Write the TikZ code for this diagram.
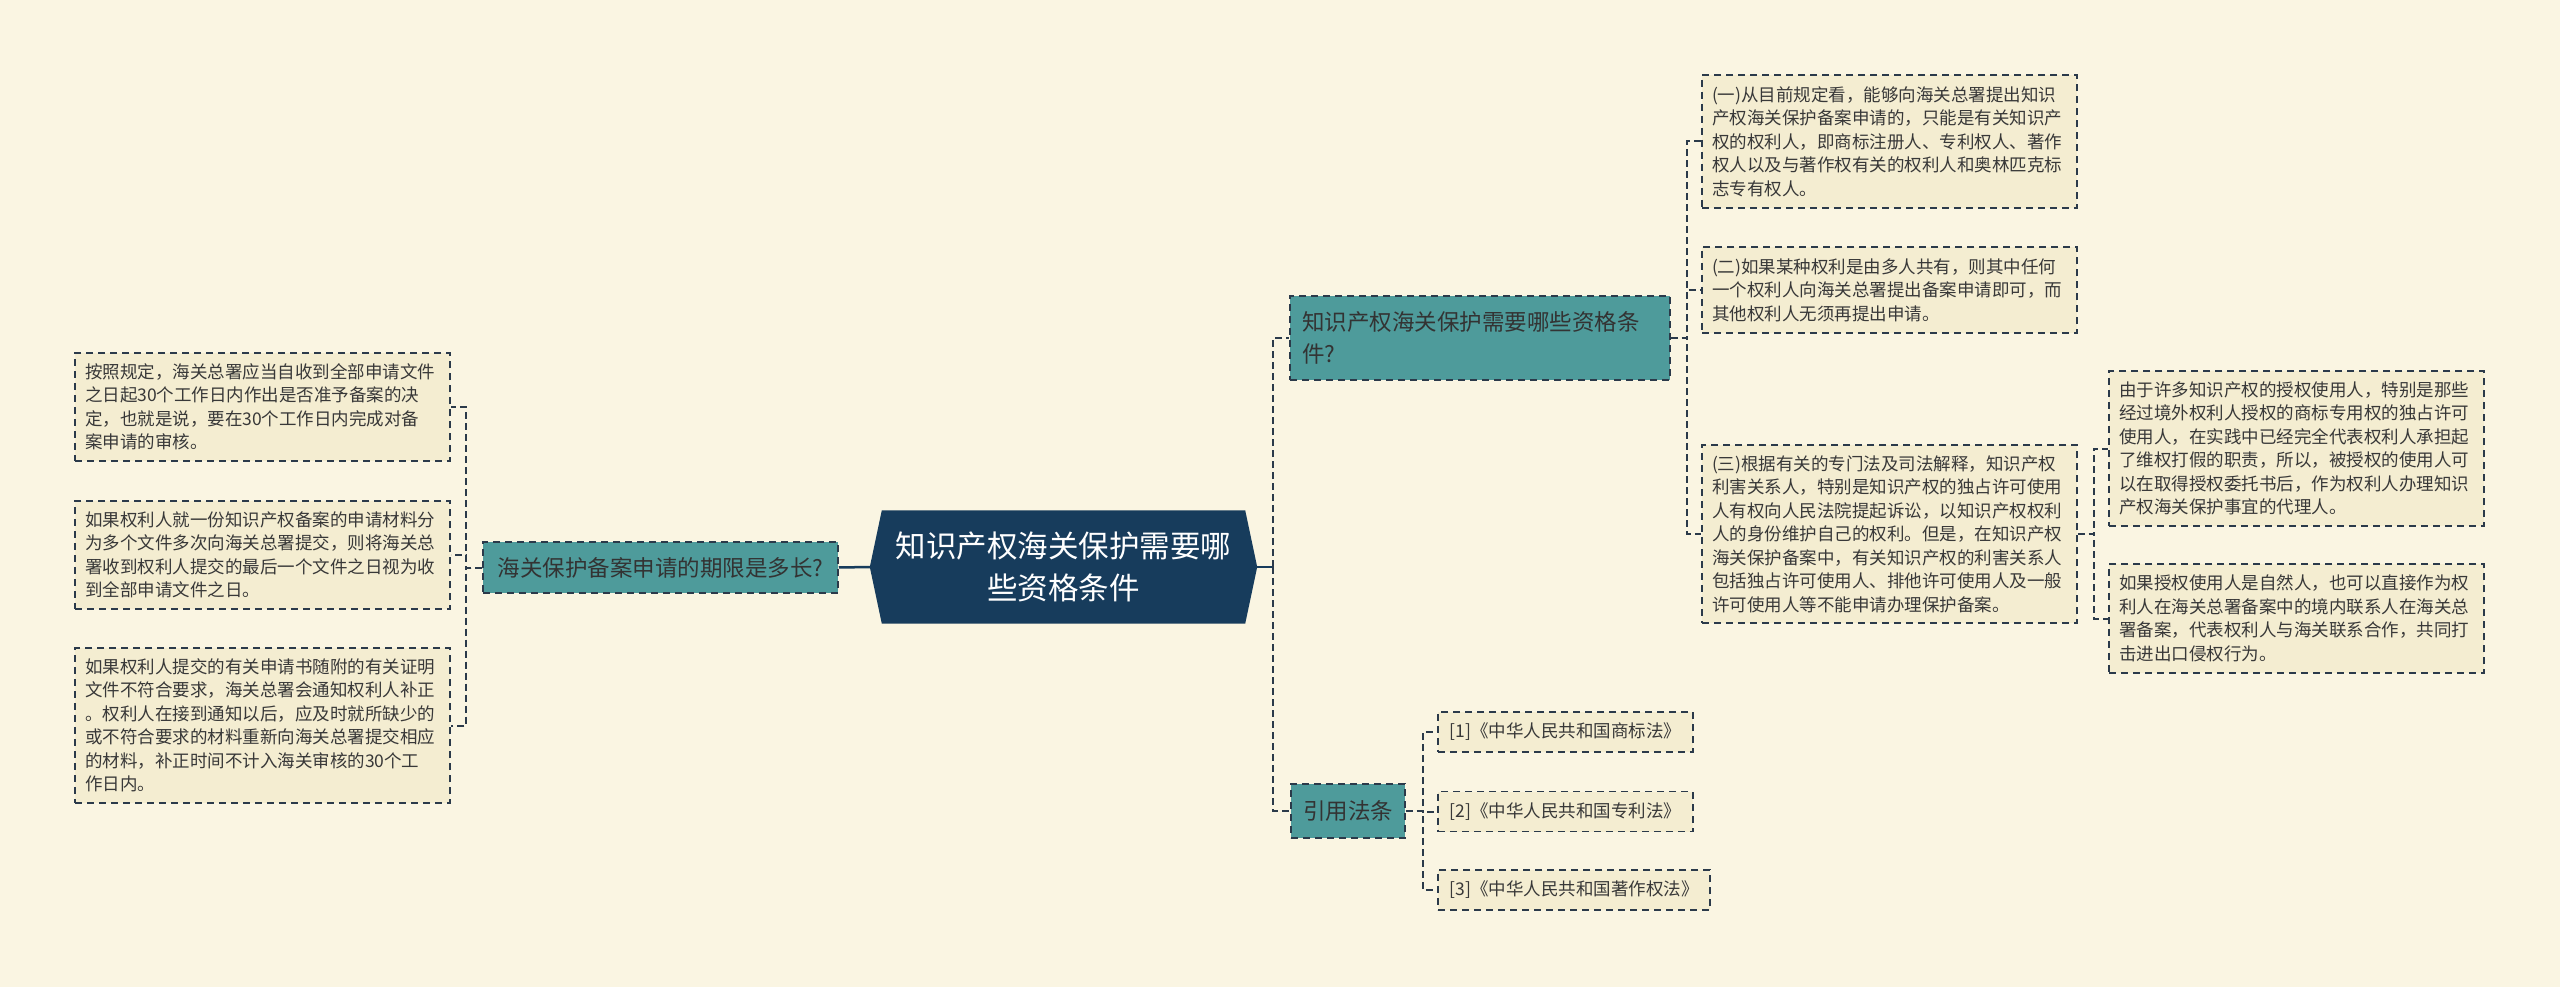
\documentclass[tikz,border=0pt]{standalone}
\usepackage{fontspec}
\usetikzlibrary{backgrounds,calc}
\newfontfamily\cjk{Noto Sans CJK SC}
\definecolor{paper}{HTML}{FAF5E2}
\definecolor{leaffill}{HTML}{F4EDD1}
\definecolor{topicfill}{HTML}{4E9B9B}
\definecolor{navyfill}{HTML}{173C5C}
\definecolor{edgeline}{HTML}{2B3A4A}
\definecolor{ink}{HTML}{383838}
\begin{document}
\begin{tikzpicture}[x=1pt,y=-1pt,
leaf/.style={draw=edgeline,fill=leaffill,line width=1.5pt,dash pattern=on 7pt off 5pt,
text width=355pt,align=left,inner xsep=10pt,text=ink,font=\cjk\fontsize{17.5}{23.5}\selectfont},
cite/.style={draw=edgeline,fill=leaffill,line width=1.5pt,dash pattern=on 7pt off 5pt,
minimum height=40pt,inner xsep=10pt,text=ink,font=\cjk\fontsize{17.5}{22}\selectfont},
topic/.style={draw=edgeline,fill=topicfill,line width=1.5pt,dash pattern=on 7pt off 5pt,
align=left,text=black!80,font=\cjk\fontsize{22.5}{32}\selectfont},
link/.style={draw=edgeline,line width=2pt,dash pattern=on 7pt off 4pt},
trunk/.style={draw=navyfill,line width=2.5pt}]
\useasboundingbox (0,0) rectangle (2560,987);
\node[font=\cjk\fontsize{30.5}{42}\selectfont,text=white,align=center,minimum width=363pt,minimum height=113pt] (root) at (1063.5,567) {知识产权海关保护需要哪\\些资格条件};
\node[topic,minimum width=355pt,minimum height=51pt] (q1) at (660.5,567.5) {海关保护备案申请的期限是多长?};
\node[topic,text width=356pt,inner xsep=12pt,minimum height=84pt] (n1) at (1480,338) {知识产权海关保护需要哪些资格条\\件?};
\node[topic,minimum width=114pt,minimum height=54pt] (n2) at (1348,811) {引用法条};
\node[leaf,minimum height=108pt] (L1) at (262.5,407) {按照规定，海关总署应当自收到全部申请文件\\之日起30个工作日内作出是否准予备案的决\\定，也就是说，要在30个工作日内完成对备\\案申请的审核。};
\node[leaf,minimum height=108pt] (L2) at (262.5,555) {如果权利人就一份知识产权备案的申请材料分\\为多个文件多次向海关总署提交，则将海关总\\署收到权利人提交的最后一个文件之日视为收\\到全部申请文件之日。};
\node[leaf,minimum height=155pt] (L3) at (262.5,725.5) {如果权利人提交的有关申请书随附的有关证明\\文件不符合要求，海关总署会通知权利人补正\\。权利人在接到通知以后，应及时就所缺少的\\或不符合要求的材料重新向海关总署提交相应\\的材料，补正时间不计入海关审核的30个工\\作日内。};
\node[leaf,minimum height=133pt] (R1) at (1889.5,141.5) {(一)从目前规定看，能够向海关总署提出知识\\产权海关保护备案申请的，只能是有关知识产\\权的权利人，即商标注册人、专利权人、著作\\权人以及与著作权有关的权利人和奥林匹克标\\志专有权人。};
\node[leaf,minimum height=86pt] (R2) at (1889.5,290) {(二)如果某种权利是由多人共有，则其中任何\\一个权利人向海关总署提出备案申请即可，而\\其他权利人无须再提出申请。};
\node[leaf,minimum height=178pt] (R3) at (1889.5,534) {(三)根据有关的专门法及司法解释，知识产权\\利害关系人，特别是知识产权的独占许可使用\\人有权向人民法院提起诉讼，以知识产权权利\\人的身份维护自己的权利。但是，在知识产权\\海关保护备案中，有关知识产权的利害关系人\\包括独占许可使用人、排他许可使用人及一般\\许可使用人等不能申请办理保护备案。};
\node[leaf,minimum height=155pt] (R3a) at (2296.5,448.5) {由于许多知识产权的授权使用人，特别是那些\\经过境外权利人授权的商标专用权的独占许可\\使用人，在实践中已经完全代表权利人承担起\\了维权打假的职责，所以，被授权的使用人可\\以在取得授权委托书后，作为权利人办理知识\\产权海关保护事宜的代理人。};
\node[leaf,minimum height=109pt] (R3b) at (2296.5,618.5) {如果授权使用人是自然人，也可以直接作为权\\利人在海关总署备案中的境内联系人在海关总\\署备案，代表权利人与海关联系合作，共同打\\击进出口侵权行为。};
\node[cite,minimum width=255pt] (C1) at (1565.5,732) {[1]《中华人民共和国商标法》};
\node[cite,minimum width=255pt] (C2) at (1565.5,811.5) {[2]《中华人民共和国专利法》};
\node[cite,minimum width=272pt] (C3) at (1574,890) {[3]《中华人民共和国著作权法》};
\begin{pgfonlayer}{background}
\fill[paper] (0,0) rectangle (2560,987);
\fill[navyfill] (root.north west) -- (root.north east) -- ([xshift=12pt]root.east) -- (root.south east)
  -- (root.south west) -- ([xshift=-12pt]root.west) -- cycle;
\end{pgfonlayer}
\draw[trunk] (q1.east) -- ([xshift=-12pt]root.west);
\draw[trunk] ([xshift=12pt]root.east) -- ++(16,0) coordinate (rj);
\foreach \b in {n1,n2}{\draw[link] (rj) |- (\b.west);}
\foreach \b in {L1,L2,L3}{\draw[link] (q1.west) -- ++(-16,0) |- (\b.east);}
\foreach \b in {R1,R2,R3}{\draw[link] (n1.east) -- ++(16,0) |- (\b.west);}
\foreach \b in {R3a,R3b}{\draw[link] (R3.east) -- ++(16,0) |- (\b.west);}
\foreach \b in {C1,C2,C3}{\draw[link] (n2.east) -- ++(17,0) |- (\b.west);}
\end{tikzpicture}
\end{document}
